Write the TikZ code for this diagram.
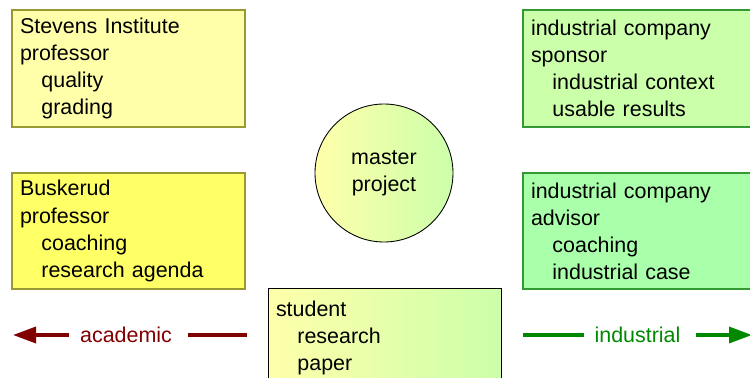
\documentclass[tikz,border=0pt]{standalone}
\usepackage{xcolor}
\usepackage{fontspec}
\setmainfont{Liberation Sans}
\usepackage{tikz}
\usetikzlibrary{shapes, arrows.meta, positioning}

\definecolor{paleyellow}{RGB}{255,255,170}
\definecolor{brightyellow}{RGB}{255,255,102}
\definecolor{palelime}{RGB}{204,255,170}
\definecolor{palegreen}{RGB}{170,255,170}
\definecolor{olivedraw}{RGB}{153,153,51}
\definecolor{greendraw}{RGB}{51,153,51}
\definecolor{acadred}{RGB}{128,0,0}
\definecolor{indgreen}{RGB}{0,136,0}

\begin{document}
\begin{tikzpicture}
  [
    font=\fontsize{12.2}{15.4}\selectfont,
    Box/.style={rectangle, line width=0.6pt, minimum width=4.66cm, text width=4.34cm, inner xsep=0.16cm, align=left},
    Pale/.style={Box, draw=olivedraw, fill=paleyellow, minimum height=2.34cm},
    Yellow/.style={Box, draw=olivedraw, fill=brightyellow, minimum height=2.32cm},
    Lime/.style={Box, draw=greendraw, fill=palelime, minimum height=2.34cm},
    Green/.style={Box, draw=greendraw, fill=palegreen, minimum height=2.32cm},
    Mixed/.style={Box, draw=black, line width=0.5pt, left color=paleyellow, right color=palelime, minimum height=2cm},
    Round/.style={circle, draw=black, line width=0.5pt, left color=paleyellow, right color=palelime, minimum size=2.76cm, align=center},
    Acad/.style={acadred, inner xsep=0.22cm},
    Ind/.style={indgreen, inner xsep=0.2cm}
  ]
  \clip (0, 0) rectangle (15, -7.56);

  % Nodes (x, y)
  \node[Pale] (stevens) at(2.57, -1.37) {Stevens Institute\\professor\\\quad quality\\\quad grading};
  \node[Yellow] (buskerud) at(2.57, -4.62) {Buskerud\\professor\\\quad coaching\\\quad research agenda};
  \node[Lime] (sponsor) at(12.79, -1.37) {industrial company\\sponsor\\\quad industrial context\\\quad usable results};
  \node[Green] (advisor) at(12.79, -4.62) {industrial company\\advisor\\\quad coaching\\\quad industrial case};
  \node[Round] (master) at(7.68, -3.46) {master\\project};
  \node[Mixed] (student) at(7.69, -6.76) {student\\\quad research\\\quad paper};

  \node[Acad] (academic) at(2.52, -6.70) {academic};
  \coordinate (acadtip) at(0.26, -6.70);
  \coordinate (acadtail) at(4.94, -6.70);
  \node[Ind] (industrial) at(12.75, -6.70) {industrial};
  \coordinate (indtail) at(10.46, -6.70);
  \coordinate (indtip) at(15.04, -6.70);

  % Lines
  % <- academic
  \path [-{Triangle[length=0.46cm, width=0.32cm]}, draw=acadred, line width=2pt] (academic.west) -- (acadtip);
  % academic --
  \path [draw=acadred, line width=2pt] (acadtail) -- ([xshift=0.1cm]academic.east);
  % -- industrial
  \path [draw=indgreen, line width=2pt] (indtail) -- (industrial.west);
  % industrial ->
  \path [-{Triangle[length=0.46cm, width=0.32cm]}, draw=indgreen, line width=2pt] ([xshift=0.1cm]industrial.east) -- (indtip);

\end{tikzpicture}
\end{document}
